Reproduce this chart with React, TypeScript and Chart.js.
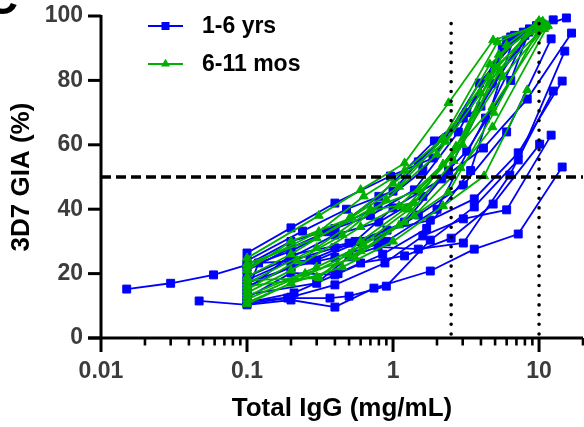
import React, { useEffect, useRef } from "react";
import { Chart, registerables } from "chart.js";

Chart.register(...registerables);

// ---- data (x = Total IgG mg/mL, y = 3D7 GIA %) ----
const blueX: number[][] = [
  [0.015, 0.03, 0.059, 0.1, 0.2, 0.4, 0.79, 1.6, 3.2, 6.4],
  [0.047, 0.1, 0.2, 0.4, 0.74, 1.8, 3.6, 7.2, 14.4],
  [0.1, 0.19, 0.37, 0.5, 0.9, 1.8, 3.6, 7.2, 15],
  [0.1, 0.2, 0.4, 0.88, 1.6, 3.03, 6.0, 12.1],
  [0.1, 0.2, 0.4, 0.6, 1.2, 2.5, 4.85, 10.1],
  [0.1, 0.3, 0.5, 0.79, 1.49, 3.03, 6.3, 12.5],
  [0.1, 0.2, 0.5, 0.91, 1.8, 3.6, 7.2, 14.4],
  [0.1, 0.2, 0.4, 0.96, 1.88, 3.9, 7.8, 15.4],
  [0.1, 0.24, 0.48, 1.0, 1.49, 3.03, 6.0, 12.5],
  [0.1, 0.27, 0.55, 1.0, 2.16, 4.16, 8.3, 16.7],
  [0.1, 0.2, 0.4, 0.79, 1.49, 3.03, 6.0, 12.1],
  [0.1, 0.12, 0.3, 0.6, 1.2, 2.4, 4.8, 9.6],
  [0.1, 0.2, 0.35, 0.7, 1.4, 2.8, 5.6, 10.5],
  [0.1, 0.2, 0.4, 0.8, 1.6, 3.2, 6.4, 8.5],
  [0.1, 0.2, 0.4, 0.8, 1.92, 4.0, 8.0],
  [0.1, 0.21, 0.42, 0.85, 1.7, 3.4, 6.8],
  [0.1, 0.2, 0.4, 0.9, 2.0, 4.3, 8.6],
];
const blueY: number[][] = [
  [15.2, 17, 19.6, 22.7, 30, 34, 41, 52, 70, 93.5],
  [11.5, 10.3, 11.8, 9.6, 15.5, 20.8, 27.6, 32.3, 53.1],
  [10.6, 12.4, 12.4, 13, 16.1, 30.4, 40.7, 55.3, 89.1],
  [11.2, 12.7, 16.5, 23.3, 31.7, 37, 39.8, 63],
  [12.5, 20.2, 19.6, 23.3, 25.5, 31, 41.6, 60.2],
  [13.5, 17, 25.2, 28.3, 27.6, 29.5, 50.6, 76.7],
  [15, 25.8, 29.5, 33.5, 36.6, 43.2, 57.5, 79.8],
  [26.4, 34.2, 41.9, 50.3, 55.9, 79.2, 95, 99.4],
  [24, 33.2, 40, 45.6, 54.7, 68.3, 92.5, 98.8],
  [17, 24.2, 30, 40.4, 49.4, 59, 74.2, 94.7],
  [18, 24, 28, 31, 38.2, 47.5, 64, 92.9],
  [14, 23.3, 24.2, 30, 36, 52, 79, 97],
  [21, 28, 33, 38, 46, 64, 90, 97.5],
  [19, 25, 32, 36, 44, 58, 80, 95],
  [22, 27, 34, 44, 61.2, 72, 94],
  [11, 14, 20, 26, 34, 52, 94],
  [16, 22, 25, 30, 40, 68.3, 96],
];
const greenX: number[][] = [
  [0.1, 0.31, 0.6, 1.2, 2.4, 4.85, 10],
  [0.1, 0.31, 0.63, 1.2, 2.2, 5.2, 10.5],
  [0.1, 0.2, 0.52, 1.1, 2.16, 4.5, 9.6],
  [0.1, 0.3, 0.7, 1.4, 2.7, 5.6, 11],
  [0.1, 0.2, 0.6, 1.1, 2.2, 4.8, 10.8],
  [0.1, 0.3, 0.63, 1.4, 2.9, 4.8, 11.5],
  [0.1, 0.2, 0.45, 1.0, 2.2, 4.2, 8.3],
  [0.1, 0.3, 0.6, 1.2, 2.4, 4.9, 9.8],
  [0.1, 0.2, 0.5, 1.0, 2.3, 4.6, 9.9],
  [0.1, 0.31, 0.6, 1.2, 2.5, 5.0, 10.4],
  [0.1, 0.25, 0.55, 1.1, 2.6, 5.3, 10.6],
  [0.1, 0.22, 0.45, 0.9, 2.0, 4.0, 8.6],
  [0.1, 0.2, 0.5, 1.3, 2.7, 5.4, 11.2],
  [0.1, 0.3, 0.7, 1.5, 3.0, 6.0, 10.0],
];
const greenY: number[][] = [
  [24.8, 38, 46, 54.3, 73, 92.5, 97],
  [22, 33, 44, 52, 62, 91.9, 98],
  [19, 26, 37.5, 47, 61.5, 81, 97.5],
  [17, 28, 39.6, 42, 59.3, 81, 96.5],
  [14, 21, 34.5, 41, 54, 71.7, 96],
  [13, 22, 29, 38, 52.8, 65.5, 97],
  [11, 17, 22, 30, 41, 50.3, 77],
  [16, 19, 27, 36, 45.3, 70, 95.5],
  [21, 30, 37, 48, 61, 85, 98],
  [18, 18.6, 30, 40, 56, 84, 97.8],
  [12, 20, 25, 35, 55, 88, 98.3],
  [15, 24, 32, 43, 57, 76, 95],
  [10.5, 17, 26, 40, 59.5, 83, 97],
  [23, 31, 40, 46, 60, 91, 98.5],
];
const seriesNames = ["1-6 yrs", "6-11 mos"];
const xTickValues = [
  0.01, 0.02, 0.03, 0.04, 0.05, 0.06, 0.07, 0.08, 0.09,
  0.1, 0.2, 0.3, 0.4, 0.5, 0.6, 0.7, 0.8, 0.9,
  1, 2, 3, 4, 5, 6, 7, 8, 9,
  10, 20,
];
const xMajorTicks = [0.01, 0.1, 1, 10];
const xMajorLabels = ["0.01", "0.1", "1", "10"];
const yTickValues = [0, 20, 40, 60, 80, 100];
const thresholdY = 50;
const thresholdX = [2.5, 10];

const BLUE = "#0000ff";
const GREEN = "#00b000";
const FONT = '"Liberation Sans", Arial, sans-serif';
const TICK_COLOR = "#3c3c3c";

function drawMarker(ctx: CanvasRenderingContext2D, style: string, x: number, y: number, color: string) {
  ctx.fillStyle = color;
  ctx.beginPath();
  if (style === "rect") {
    ctx.rect(x - 4, y - 4, 8, 8);
  } else {
    const r = 5.2;
    ctx.moveTo(x, y - r);
    ctx.lineTo(x + r * 0.866, y + r * 0.5);
    ctx.lineTo(x - r * 0.866, y + r * 0.5);
    ctx.closePath();
  }
  ctx.fill();
}

function zeroPadding(s: any) {
  s.paddingTop = 0;
  s.paddingBottom = 0;
  s.paddingLeft = 0;
  s.paddingRight = 0;
}

const overlayPlugin = {
  id: "overlay",
  afterDatasetsDraw(chart: any) {
    const { ctx, chartArea, scales } = chart;
    const x = scales.x;
    const y = scales.y;
    ctx.save();
    ctx.strokeStyle = "#000";
    ctx.lineWidth = 3.5;
    ctx.setLineDash([10, 5]);
    const py = y.getPixelForValue(thresholdY);
    ctx.beginPath();
    ctx.moveTo(chartArea.left, py);
    ctx.lineTo(chartArea.right, py);
    ctx.stroke();
    ctx.setLineDash([0, 9.7]);
    ctx.lineCap = "round";
    ctx.lineWidth = 3.6;
    for (const v of thresholdX) {
      const px = x.getPixelForValue(v);
      ctx.beginPath();
      ctx.moveTo(px, chartArea.bottom - 4);
      ctx.lineTo(px, chartArea.top);
      ctx.stroke();
    }
    ctx.restore();
  },
  afterDraw(chart: any) {
    const { ctx, chartArea, scales } = chart;
    const x = scales.x;
    const y = scales.y;
    const L = chartArea.left;
    const B = chartArea.bottom;
    ctx.save();
    ctx.strokeStyle = "#000";
    ctx.lineCap = "butt";
    // y axis
    ctx.lineWidth = 3;
    ctx.beginPath();
    ctx.moveTo(L, chartArea.top - 1);
    ctx.lineTo(L, B);
    ctx.stroke();
    for (const v of yTickValues) {
      const py = y.getPixelForValue(v);
      ctx.beginPath();
      ctx.moveTo(L - 13, py);
      ctx.lineTo(L, py);
      ctx.stroke();
    }
    // x axis
    ctx.beginPath();
    ctx.moveTo(L - 13, B);
    ctx.lineTo(chartArea.right, B);
    ctx.stroke();
    for (const v of xTickValues) {
      const px = x.getPixelForValue(v);
      const major = xMajorTicks.includes(v);
      ctx.lineWidth = major ? 3 : 2.6;
      ctx.beginPath();
      ctx.moveTo(px, B);
      ctx.lineTo(px, B + (major ? 14 : 7.5));
      ctx.stroke();
    }
    // legend
    const items = [
      { label: seriesNames[0], color: BLUE, style: "rect", y: 26 },
      { label: seriesNames[1], color: GREEN, style: "triangle", y: 64 },
    ];
    for (const it of items) {
      ctx.strokeStyle = it.color;
      ctx.lineWidth = 2;
      ctx.beginPath();
      ctx.moveTo(148, it.y);
      ctx.lineTo(183, it.y);
      ctx.stroke();
      drawMarker(ctx, it.style, 165.5, it.y, it.color);
      ctx.fillStyle = "#000";
      ctx.font = `bold 23px ${FONT}`;
      ctx.textAlign = "left";
      ctx.textBaseline = "middle";
      ctx.fillText(it.label, 202, it.y + 1);
    }
    // panel letter (clipped at corner)
    ctx.fillStyle = "#000";
    ctx.font = `bold 46px ${FONT}`;
    ctx.textAlign = "right";
    ctx.textBaseline = "alphabetic";
    ctx.fillText("C", 18, 14);
    ctx.restore();
  },
};

export default function App() {
  const ref = useRef<HTMLCanvasElement | null>(null);
  useEffect(() => {
    document.body.style.margin = "0";
    if (!ref.current) return;
    const green = greenX.map((xs, i) => ({
      label: seriesNames[1],
      data: xs.map((v, j) => ({ x: v, y: greenY[i][j] })),
      borderColor: GREEN,
      backgroundColor: GREEN,
      borderWidth: 1.8,
      pointStyle: "triangle",
      pointRadius: 5.2,
      pointBorderWidth: 1,
      pointBorderColor: GREEN,
      pointBackgroundColor: GREEN,
      tension: 0,
    }));
    const blue = blueX.map((xs, i) => ({
      label: seriesNames[0],
      data: xs.map((v, j) => ({ x: v, y: blueY[i][j] })),
      borderColor: BLUE,
      backgroundColor: BLUE,
      borderWidth: 1.8,
      pointStyle: "rect",
      pointRadius: 5.6,
      pointBorderWidth: 1,
      pointBorderColor: BLUE,
      pointBackgroundColor: BLUE,
      tension: 0,
    }));
    const chart = new Chart(ref.current, {
      type: "line",
      data: { datasets: [...green, ...blue] as any },
      options: {
        responsive: false,
        animation: false,
        clip: false as any,
        layout: { autoPadding: false, padding: { left: 0, right: 1, top: 16, bottom: 0 } },
        plugins: { legend: { display: false }, tooltip: { enabled: false } },
        scales: {
          x: {
            type: "logarithmic",
            min: 0.01,
            max: 20,
            afterBuildTicks: (s: any) => {
              s.ticks = xTickValues.map((v) => ({ value: v, major: xMajorTicks.includes(v) }));
            },
            afterFit: (s: any) => {
              s.height = 89;
              zeroPadding(s);
            },
            grid: { display: false, drawTicks: false, tickLength: 0 },
            border: { display: false },
            ticks: {
              autoSkip: false,
              maxRotation: 0,
              padding: 20,
              color: TICK_COLOR,
              font: { family: FONT, size: 23, weight: "bold" },
              callback: (v: any) => {
                const idx = xMajorTicks.indexOf(Number(v));
                return idx >= 0 ? xMajorLabels[idx] : "";
              },
            },
            title: {
              display: true,
              text: "Total IgG (mg/mL)",
              color: "#000",
              font: { family: FONT, size: 26, weight: "bold" },
              padding: { top: 0, bottom: 3 },
            },
          },
          y: {
            type: "linear",
            min: 0,
            max: 100,
            afterBuildTicks: (s: any) => {
              s.ticks = yTickValues.map((v) => ({ value: v }));
            },
            afterFit: (s: any) => {
              s.width = 101;
              zeroPadding(s);
            },
            grid: { display: false, drawTicks: false, tickLength: 0 },
            border: { display: false },
            ticks: {
              padding: 18,
              color: TICK_COLOR,
              font: { family: FONT, size: 23, weight: "bold" },
            },
            title: {
              display: true,
              text: "3D7 GIA (%)",
              color: "#000",
              font: { family: FONT, size: 26, weight: "bold" },
              padding: { top: 6, bottom: 0 },
            },
          },
        },
      },
      plugins: [overlayPlugin],
    });
    return () => chart.destroy();
  }, []);
  return (
    <div style={{ width: 584, height: 427 }}>
      <canvas ref={ref} width={584} height={427} />
    </div>
  );
}
